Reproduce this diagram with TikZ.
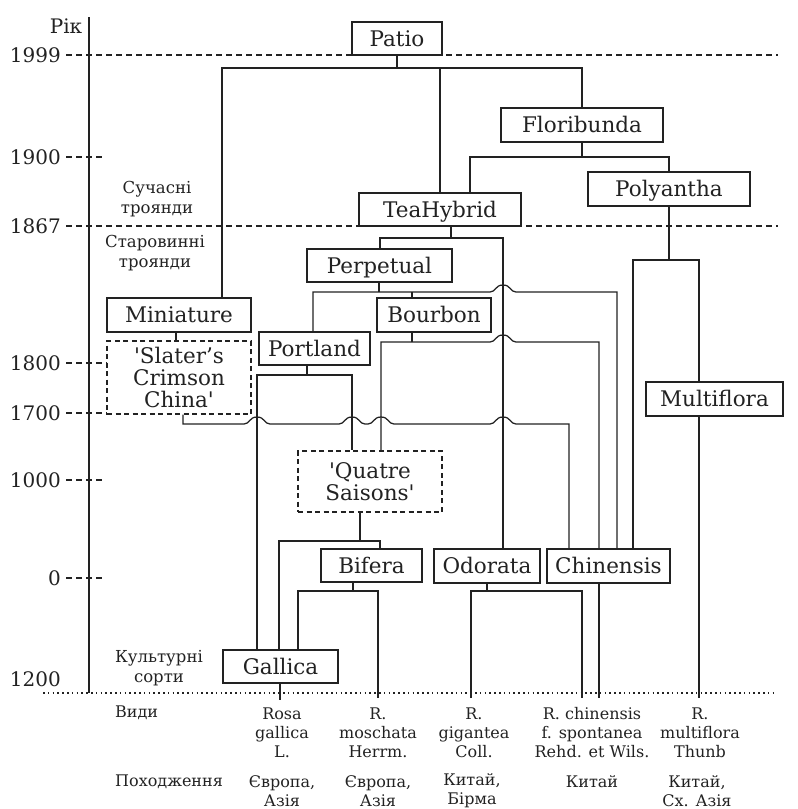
\documentclass[tikz,border=0pt]{standalone}
\usepackage{fontspec}
\setmainfont{DejaVu Serif}
\definecolor{ink}{HTML}{222222}
\newcommand\fbg{\fontsize{21.5}{22}\selectfont}
\newcommand\fyr{\fontsize{20}{21}\selectfont}
\newcommand\fmd{\fontsize{16.5}{19.5}\selectfont}
\newcommand\fsm{\fontsize{16}{19}\selectfont}
\pgfdeclarelayer{bg}
\pgfsetlayers{bg,main}
\begin{document}
\begin{tikzpicture}[x=1pt,y=-1pt,
  conn/.style={draw=ink,line width=1.25pt},
  box/.style={draw=ink,fill=white,line width=1.3pt,inner sep=0pt,font=\fbg,text=ink,text height=15pt,text depth=0pt},
  dbox/.style={draw=ink,fill=white,line width=1.3pt,inner sep=0pt,font=\fbg,text=ink,align=center,dash pattern=on 5pt off 3.5pt},
  yr/.style={anchor=east,inner sep=0pt,font=\fyr,text=ink},
  lbl/.style={inner sep=0pt,font=\fmd,text=ink,align=center},
  sp/.style={inner sep=0pt,font=\fsm,text=ink,align=center},
  rule/.style={draw=ink,line width=1.1pt,dash pattern=on 6pt off 4pt},
  dots/.style={draw=ink,line width=1.2pt,dash pattern=on 1.6pt off 3.2pt}]
\useasboundingbox (0,0) rectangle (798,809);

% ---- axis and year marks
\node[inner sep=0pt,font=\fyr,text=ink] (rik) at (66,26) {Рік};
\draw[ink,line width=1.25pt] (89,17) -- (89,693);
\node[yr] (y1999) at (61,55) {1999};
\node[yr] (y1900) at (61,157) {1900};
\node[yr] (y1867) at (61,226) {1867};
\node[yr] (y1800) at (61,363) {1800};
\node[yr] (y1700) at (61,413) {1700};
\node[yr] (y1000) at (61,480) {1000};
\node[yr] (y0) at (61,578) {0};
\node[yr] (y1200) at (61,679) {1200};
\draw[rule] ([xshift=5pt]y1999.east) -- (778,55);
\draw[rule] ([xshift=5pt]y1900.east) -- (104,157);
\draw[rule] ([xshift=5pt]y1867.east) -- (778,226);
\draw[rule] ([xshift=5pt]y1800.east) -- (107,363);
\draw[rule] ([xshift=5pt]y1700.east) -- (107,413);
\draw[rule] ([xshift=5pt]y1000.east) -- (104,480);
\draw[rule] ([xshift=5pt]y0.east) -- (104,578);
\draw[dots] (43,693) -- (773,693);

\node[lbl] (modern) at (157,199) {Сучасні\\троянди};
\node[lbl] (old) at (155,253) {Старовинні\\троянди};
\node[lbl] (cult) at (159,668) {Культурні\\сорти};

% ---- boxes
\node[box,minimum width=90pt,minimum height=33pt] (patio) at (397,38.5) {Patio};
\node[box,minimum width=162pt,minimum height=34pt] (flori) at (582,125) {Floribunda};
\node[box,minimum width=162pt,minimum height=34pt] (poly) at (669,189) {Polyantha};
\node[box,minimum width=162pt,minimum height=33pt] (tea) at (440,209.5) {TeaHybrid};
\node[box,minimum width=145pt,minimum height=33pt] (perp) at (379.5,265.5) {Perpetual};
\node[box,minimum width=114pt,minimum height=34pt] (bour) at (434,315) {Bourbon};
\node[box,minimum width=111pt,minimum height=33pt] (port) at (314.5,348.5) {Portland};
\node[box,minimum width=144pt,minimum height=34pt] (mini) at (179,315) {Miniature};
\node[dbox,minimum width=144pt,minimum height=73pt] (slat) at (179,377.5) {\textquotesingle Slater’s\\Crimson\\China\textquotesingle};
\node[box,minimum width=137pt,minimum height=34pt] (multi) at (714.5,399) {Multiflora};
\node[dbox,minimum width=144pt,minimum height=61pt] (quat) at (370,481.5) {\textquotesingle Quatre\\Saisons\textquotesingle};
\node[box,minimum width=101pt,minimum height=33pt] (bif) at (371.5,565.5) {Bifera};
\node[box,minimum width=106pt,minimum height=34pt] (odor) at (487,566) {Odorata};
\node[box,minimum width=123pt,minimum height=34pt] (chin) at (608.5,566) {Chinensis};
\node[box,minimum width=115pt,minimum height=33pt] (gall) at (280.5,666.5) {Gallica};

% ---- connectors (behind the boxes)
\begin{pgfonlayer}{bg}
\coordinate (jP) at (397,68);
\draw[conn] (patio.south) -- (jP);
\draw[conn] (222,0 |- mini.north) |- (flori.north |- jP) -- (flori.north);
\draw[conn] (tea.north |- jP) -- (tea.north);

\draw[conn] (flori.south) -- (582,157);
\draw[conn] (470,0 |- tea.north) |- (poly.north |- 0,157) -- (poly.north);

\draw[conn] (poly.south) -- (669,260);
\draw[conn] (633,0 |- chin.north) |- (699,260) -- (699,0 |- multi.north);
\draw[conn] (699,0 |- multi.south) -- (699,698) coordinate (spM);

\draw[conn] (451,0 |- tea.south) -- (451,238);
\draw[conn] (380,0 |- perp.north) |- (503,238) -- (503,0 |- odor.north);

\draw[conn] (379,0 |- perp.south) -- (379,292);
\draw[conn] (313,0 |- port.north) -- (313,292) -- (490,292)
  .. controls (496,292) and (495,285) .. (503,285)
  .. controls (511,285) and (510,292) .. (516,292)
  -- (617,292) -- (617,0 |- chin.north);
\draw[conn] (412,292) -- (412,0 |- bour.north);

\draw[conn] (307,0 |- port.south) -- (307,375);
\draw[conn] (257,0 |- gall.north) |- (352,375) -- (352,0 |- quat.north);

\draw[conn] (412,0 |- bour.south) -- (412,342);
\draw[conn] (381,0 |- quat.north) -- (381,342) -- (490,342)
  .. controls (496,342) and (495,335) .. (503,335)
  .. controls (511,335) and (510,342) .. (516,342)
  -- (599,342) -- (599,0 |- chin.north);

\draw[conn] (176,0 |- mini.south) -- (176,0 |- slat.north);

\draw[conn] (183,0 |- slat.south) -- (183,424) -- (244,424)
  .. controls (250,424) and (249,417) .. (257,417)
  .. controls (265,417) and (264,424) .. (270,424)
  -- (339,424)
  .. controls (345,424) and (344,417) .. (352,417)
  .. controls (360,417) and (359,424) .. (365,424)
  -- (368,424)
  .. controls (374,424) and (373,417) .. (381,417)
  .. controls (389,417) and (388,424) .. (394,424)
  -- (490,424)
  .. controls (496,424) and (495,417) .. (503,417)
  .. controls (511,417) and (510,424) .. (516,424)
  -- (569,424) -- (569,0 |- chin.north);

\draw[conn] (360,0 |- quat.south) -- (360,541);
\draw[conn] (279,0 |- gall.north) |- (380,541) -- (380,0 |- bif.north);

\draw[conn] (353,0 |- bif.south) -- (353,591);
\draw[conn] (298,0 |- gall.north) |- (378,591) -- (378,698) coordinate (spB);

\draw[conn] (odor.south) -- (487,591);
\draw[conn] (471,698) coordinate (spO1) |- (582,591) -- (582,698) coordinate (spO2);

\draw[conn] (599,0 |- chin.south) -- (599,698) coordinate (spC);
\draw[conn] (280,0 |- gall.south) -- (280,700) coordinate (spG);
\end{pgfonlayer}

% ---- species and origin
\node[sp,anchor=west] (vydy) at (115,713) {Види};
\node[sp] (s1) at (282,733) {Rosa\\gallica\\L.};
\node[sp] (s2) at (378,733) {R.\\moschata\\Herrm.};
\node[sp] (s3) at (474,733) {R.\\gigantea\\Coll.};
\node[sp] (s4) at (592,733) {R. chinensis\\f. spontanea\\Rehd. et Wils.};
\node[sp] (s5) at (700,733) {R.\\multiflora\\Thunb};

\node[sp,anchor=west] (poh) at (115,782) {Походження};
\node[sp] (o1) at (282,791) {Європа,\\Азія};
\node[sp] (o2) at (378,791) {Європа,\\Азія};
\node[sp] (o3) at (472,791) {Китай,\\Бірма};
\node[sp] (o4) at (592,782) {Китай};
\node[sp] (o5) at (697,791) {Китай,\\Сх. Азія};
\end{tikzpicture}
\end{document}
